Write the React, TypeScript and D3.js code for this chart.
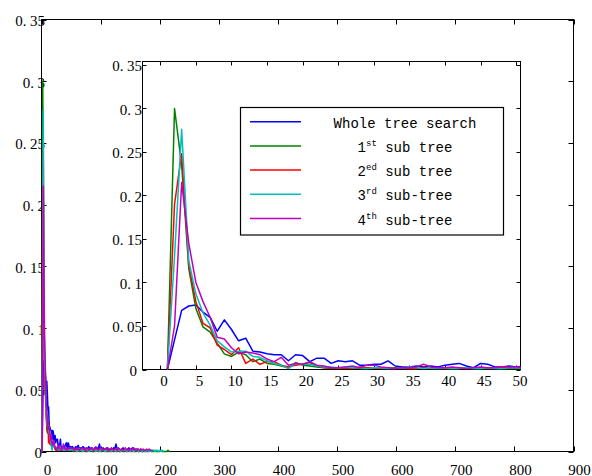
import React, { useEffect, useRef } from 'react';
import * as d3 from 'd3';

// frequency per step, x = 1..50 (this part is what the inset shows)
const blueHead = [0, .034, .068, .073, .074, .066, .060, .044, .057, .046,
  .033, .036, .021, .020, .018, .017, .017, .010, .017, .016,
  .009, .013, .013, .007, .010, .009, .010, .005, .005, .006,
  .006, .010, .004, .003, .003, .004, .003, .004, .003, .005,
  .006, .007, .004, .002, .007, .006, .003, .003, .004, .003];
const greenHead = [0, .300, .235, .116, .070, .049, .043, .030, .018, .015,
  .020, .017, .009, .012, .007, .006, .004, .002, .008, .005,
  .004, .003, .002, .001, .002, .001, .002, .001, .001, .002,
  .001, .001, .002, .001, .001, .001, .002, .001, .001, .001,
  .001, .002, .001, .001, .001, .001, .001, .001, .001, .001];
const redHead = [0, .190, .248, .120, .078, .053, .048, .028, .023, .017,
  .025, .007, .012, .006, .009, .009, .005, .003, .005, .006,
  .008, .004, .002, .002, .001, .002, .001, .003, .002, .002,
  .001, .002, .001, .002, .001, .001, .002, .001, .002, .001,
  .001, .001, .002, .001, .002, .001, .002, .003, .002, .002];
const cyanHead = [0, .130, .276, .125, .087, .065, .051, .033, .026, .020,
  .021, .021, .015, .014, .010, .007, .005, .001, .007, .006,
  .006, .004, .003, .003, .002, .003, .002, .002, .001, .002,
  .002, .001, .001, .002, .003, .002, .001, .002, .001, .002,
  .001, .001, .002, .001, .001, .002, .001, .001, .002, .002];
const magentaHead = [0, .050, .215, .145, .100, .078, .060, .037, .035, .025,
  .018, .020, .019, .017, .012, .009, .014, .005, .007, .006,
  .009, .005, .004, .002, .002, .003, .004, .002, .005, .005,
  .003, .002, .001, .002, .002, .003, .006, .003, .002, .002,
  .003, .002, .001, .002, .003, .002, .002, .003, .003, .003];

// tail beyond the inset, read every 2 steps from x = 52
const tailStart = 52;
const tailStep = 2;
const blueTail = [.004, .003, .002, .004, .003, .005, .002, .003, .002, .004,
  .003, .002, .003, .002, .004, .002, .003, .002, .001, .003,
  .002, .003, .002, .006, .002, .001, .003, .002, .001, .002,
  .003, .001, .002, .002, .001, .003, .002, .006, .002, .001,
  .002, .001, .002, .003, .001, .002, .001, .002, .003, .001,
  .002, .003, .001, .002, .001, .002, .001, .001, .002, .001, .001];
const greenTail = [.001, .000, .001, .001, .000, .001, .000, .001, .001, .000,
  .001, .000, .000, .001, .001, .000, .001, .000, .000, .001,
  .000, .001, .000, .001, .000, .000, .001, .000, .001, .000,
  .000, .001, .000, .000, .001, .000, .001, .000, .000, .001,
  .000, .000, .001, .000, .000, .001, .000, .000, .001, .000,
  .000, .001, .000, .000, .000, .001, .000, .000, .001, .000,
  .000, .000, .001, .000, .000, .000, .001, .000, .000, .000,
  .001, .000, .000, .000, .000, .001, .000, .000, .000, .000,
  .000, .001, .000, .000];
const redTail = [.001, .002, .001, .000, .002, .001, .001, .002, .000, .001,
  .002, .001, .001, .000, .001, .002, .001, .001, .000, .001,
  .001, .002, .000, .001, .001, .001, .002, .001, .000, .001,
  .001, .000, .002, .001, .001, .000, .001, .001, .002, .001,
  .000, .001, .001, .001, .000, .002, .001, .001, .000, .001,
  .001, .000, .001, .001, .002, .001, .000, .001, .001, .000,
  .001, .001, .000, .001];
const cyanTail = [.001, .002, .001, .001, .000, .001, .002, .001, .001, .000,
  .001, .001, .002, .001, .000, .001, .001, .001, .002, .001,
  .000, .001, .001, .000, .001, .002, .001, .001, .000, .001,
  .001, .002, .001, .000, .001, .001, .001, .000, .002, .001,
  .001, .000, .001, .001, .001, .002, .000, .001, .001, .000,
  .001, .001, .000, .001, .002, .001, .000, .001, .001, .000,
  .001, .001, .000, .001, .001, .000, .001, .000, .001, .001,
  .000, .001, .001, .000, .001, .000, .001, .000];
const magentaTail = [.002, .003, .001, .002, .003, .002, .001, .002, .003, .002,
  .002, .001, .003, .002, .001, .002, .002, .003, .001, .002,
  .004, .002, .001, .002, .003, .002, .001, .002, .002, .003,
  .001, .002, .001, .003, .002, .001, .002, .002, .001, .003,
  .002, .001, .002, .001, .002, .003, .001, .002, .001, .002,
  .001, .002, .003, .001, .002, .001, .002, .001, .002, .001,
  .002, .001, .001, .002, .001, .002, .001, .001, .001];

const colors = ['#0000ff', '#008000', '#ff0000', '#00bfbf', '#bf00bf'];
const heads = [blueHead, greenHead, redHead, cyanHead, magentaHead];
const tails = [blueTail, greenTail, redTail, cyanTail, magentaTail];

// legend text pieces (number, superscript, rest)
const legendNums = ['', '1', '2', '3', '4'];
const legendSups = ['', 'st', 'ed', 'rd', 'th'];
const legendRest = ['Whole tree search', ' sub tree', ' sub tree', ' sub-tree', ' sub-tree'];

const outerXTicks = [0, 100, 200, 300, 400, 500, 600, 700, 800, 900];
const outerYTicks = [0, 0.05, 0.1, 0.15, 0.2, 0.25, 0.3, 0.35];
const insetXTicks = [0, 5, 10, 15, 20, 25, 30, 35, 40, 45, 50];
const insetYTicks = [0, 0.05, 0.1, 0.15, 0.2, 0.25, 0.3, 0.35];

const tickFont = 'Liberation Serif';

function toPoints(head: number[], tail: number[]): [number, number][] {
  const pts: [number, number][] = head.map((v, i) => [i + 1, v]);
  tail.forEach((v, j) => pts.push([tailStart + j * tailStep, v]));
  return pts;
}

function drawAxes(g: any, x: any, y: any, xTicks: number[], yTicks: number[], o: any) {
  const [x0, x1] = x.range();
  const [y0, y1] = y.range();
  g.append('rect')
    .attr('x', x0).attr('y', y1)
    .attr('width', x1 - x0).attr('height', y0 - y1)
    .attr('fill', 'white').attr('stroke', 'black').attr('stroke-width', 1);

  xTicks.forEach((t) => {
    const px = Math.round(x(t)) + 0.5;
    g.append('line').attr('x1', px).attr('x2', px).attr('y1', y0).attr('y2', y0 - o.len).attr('stroke', 'black');
    g.append('line').attr('x1', px).attr('x2', px).attr('y1', y1).attr('y2', y1 + o.len).attr('stroke', 'black');
    g.append('text')
      .attr('x', x(t) + o.xdx).attr('y', y0 + o.xdy)
      .attr('text-anchor', 'middle')
      .attr('font-family', tickFont).attr('font-size', 15)
      .text(String(t));
  });

  yTicks.forEach((t) => {
    const py = Math.round(y(t)) + 0.5;
    g.append('line').attr('x1', x0).attr('x2', x0 + o.len).attr('y1', py).attr('y2', py).attr('stroke', 'black');
    g.append('line').attr('x1', x1).attr('x2', x1 - o.len).attr('y1', py).attr('y2', py).attr('stroke', 'black');
    const label = g.append('text')
      .attr('x', x0 + (t === 0 ? o.yZeroDx : o.ydx)).attr('y', y(t) + o.ydy)
      .attr('text-anchor', 'end')
      .attr('font-family', tickFont).attr('font-size', 15);
    if (t === 0) {
      label.text('0');
    } else {
      const s = String(t);
      label.append('tspan').text(s.slice(0, 2));
      label.append('tspan').attr('dx', 3.5).text(s.slice(2));
    }
  });
}

export default function App() {
  const ref = useRef<SVGSVGElement>(null);

  useEffect(() => {
    const svg = d3.select(ref.current);
    svg.selectAll('*').remove();
    const series = heads.map((h, i) => toPoints(h, tails[i]));

    // ----- outer axes -----
    const x = d3.scaleLinear().domain([0, 900]).range([41.5, 573.5]);
    const y = d3.scaleLinear().domain([0, 0.35]).range([451.5, 19.5]);
    const outer = svg.append('g');
    drawAxes(outer, x, y, outerXTicks, outerYTicks, { len: 5, xdx: 6, xdy: 23, ydx: 3.5, yZeroDx: 0.5, ydy: 6.5 });

    const line = d3.line<[number, number]>().x((d) => x(d[0])).y((d) => y(d[1]));
    series.forEach((pts, i) => {
      outer.append('path')
        .attr('d', line(pts))
        .attr('fill', 'none')
        .attr('stroke', colors[i])
        .attr('stroke-width', 1.5)
        .attr('stroke-linejoin', 'round');
    });

    // ----- inset axes -----
    const xi = d3.scaleLinear().domain([-2.5, 50.6]).range([142.5, 520.5]);
    const yi = d3.scaleLinear().domain([0, 0.354]).range([369.5, 61.5]);
    const inset = svg.append('g');
    drawAxes(inset, xi, yi, insetXTicks, insetYTicks, { len: 4, xdx: 3.7, xdy: 16.5, ydx: -0.5, yZeroDx: -5.5, ydy: 6.5 });

    svg.append('clipPath').attr('id', 'insetClip')
      .append('rect').attr('x', 142.5).attr('y', 61.5).attr('width', 378).attr('height', 308);

    const lineI = d3.line<[number, number]>().x((d) => xi(d[0])).y((d) => yi(d[1]));
    const plot = inset.append('g').attr('clip-path', 'url(#insetClip)');
    series.forEach((pts, i) => {
      plot.append('path')
        .attr('d', lineI(pts))
        .attr('fill', 'none')
        .attr('stroke', colors[i])
        .attr('stroke-width', 1.5)
        .attr('stroke-linejoin', 'round');
    });

    // ----- legend -----
    const lg = inset.append('g');
    lg.append('rect')
      .attr('x', 240.5).attr('y', 107.5).attr('width', 263).attr('height', 127.5)
      .attr('fill', 'white').attr('stroke', 'black').attr('stroke-width', 1.2);
    legendRest.forEach((rest, i) => {
      const ly = 121.7 + i * 24.2;
      lg.append('line')
        .attr('x1', 250).attr('x2', 301).attr('y1', ly).attr('y2', ly)
        .attr('stroke', colors[i]).attr('stroke-width', 1.5);
      const t = lg.append('text')
        .attr('x', 405).attr('y', ly + 6)
        .attr('text-anchor', 'middle')
        .attr('font-family', 'Liberation Mono').attr('font-size', 14);
      if (legendNums[i]) {
        t.append('tspan').text(legendNums[i]);
        t.append('tspan').attr('dy', -6).attr('font-size', 9).text(legendSups[i]);
        t.append('tspan').attr('dy', 6).text(rest);
      } else {
        t.text(rest);
      }
    });
  }, []);

  return (
    <svg ref={ref} width={592} height={476}
         style={{ position: 'absolute', left: 0, top: 0, background: 'white' }} />
  );
}
